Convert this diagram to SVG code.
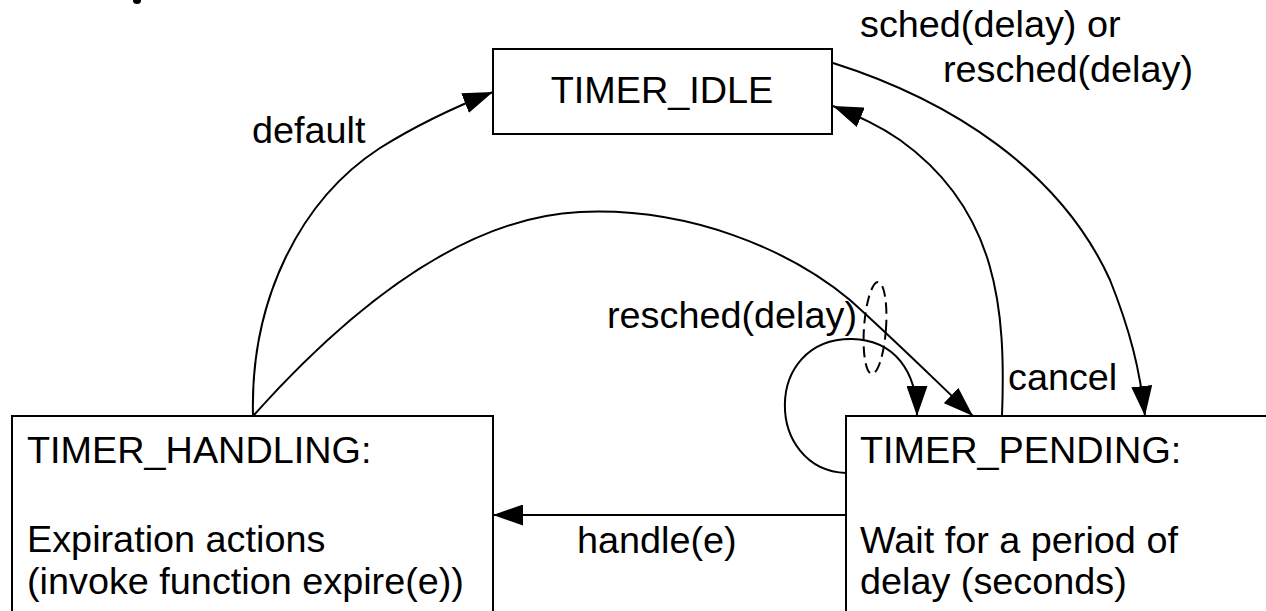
<svg xmlns="http://www.w3.org/2000/svg" width="1266" height="611" viewBox="0 0 1266 611">
  <style>
    .box { fill: #ffffff; stroke: #000000; stroke-width: 2; }
    .lbl { font-family: "Liberation Sans", Arial, sans-serif; font-size: 37.8px; fill: #000000; }
    .edge { fill: none; stroke: #000000; stroke-width: 2; marker-end: url(#arrow); }
    .dash { fill: none; stroke: #000000; stroke-width: 2; stroke-dasharray: 11 6; }
  </style>
  <defs>
    <marker id="arrow" markerUnits="userSpaceOnUse" markerWidth="31" markerHeight="21" viewBox="0 0 31 21" refX="30" refY="10.5" orient="auto">
      <path d="M0,0 L30,10.5 L0,21 Z" fill="#000000"/>
    </marker>
  </defs>

  <rect width="1266" height="611" fill="#ffffff"/>

  <!-- clipped title remnant at top edge -->
  <ellipse cx="137" cy="0.5" rx="4" ry="3.5" fill="#000000"/>

  <!-- states -->
  <g id="timer-idle">
    <rect class="box" x="493" y="49" width="339" height="85"/>
    <text class="lbl" x="662" y="103" text-anchor="middle">TIMER_IDLE</text>
  </g>

  <g id="timer-handling">
    <rect class="box" x="12" y="416" width="481" height="210"/>
    <text class="lbl" x="27" y="463">TIMER_HANDLING:</text>
    <text class="lbl" x="27" y="552">Expiration actions</text>
    <text class="lbl" x="27" y="594">(invoke function expire(e))</text>
  </g>

  <g id="timer-pending">
    <rect class="box" x="846" y="416" width="440" height="210"/>
    <text class="lbl" x="860" y="463">TIMER_PENDING:</text>
    <text class="lbl" x="860" y="553">Wait for a period of</text>
    <text class="lbl" x="860" y="594">delay (seconds)</text>
  </g>

  <!-- transitions -->
  <g id="connectors">
    <!-- default: HANDLING -> IDLE -->
    <path class="edge" d="M253,416 C250,300 300,200 380,148 C420,123 455,107 493,92"/>
    <!-- HANDLING -> PENDING -->
    <path class="edge" d="M253,416 C330,330 450,218 580,212 C690,207 790,250 850,300 C900,345 940,385 973,416"/>
    <!-- sched/resched: IDLE -> PENDING -->
    <path class="edge" d="M833,63 C950,100 1060,170 1110,280 C1130,330 1140,370 1145,416"/>
    <!-- cancel: PENDING -> IDLE -->
    <path class="edge" d="M1002,416 C1006,310 998,210 900,140 C880,126 860,117 833,106"/>
    <!-- resched self-loop on PENDING -->
    <path class="edge" d="M846,473 C765,470 762,338 852,339 C895,340 917,372 917,416"/>
    <!-- handle(e): PENDING -> HANDLING -->
    <path class="edge" d="M846,515 L493,515"/>
    <!-- dashed grouping ring over the two resched arrows -->
    <ellipse class="dash" cx="875" cy="328" rx="11" ry="46" transform="rotate(4 875 328)"/>
  </g>

  <!-- transition labels -->
  <g id="labels">
    <text class="lbl" x="252" y="143">default</text>
    <text class="lbl" x="860" y="37">sched(delay) or</text>
    <text class="lbl" x="943" y="82">resched(delay)</text>
    <text class="lbl" x="607" y="328">resched(delay)</text>
    <text class="lbl" x="1008" y="390">cancel</text>
    <text class="lbl" x="577" y="553">handle(e)</text>
  </g>
</svg>
